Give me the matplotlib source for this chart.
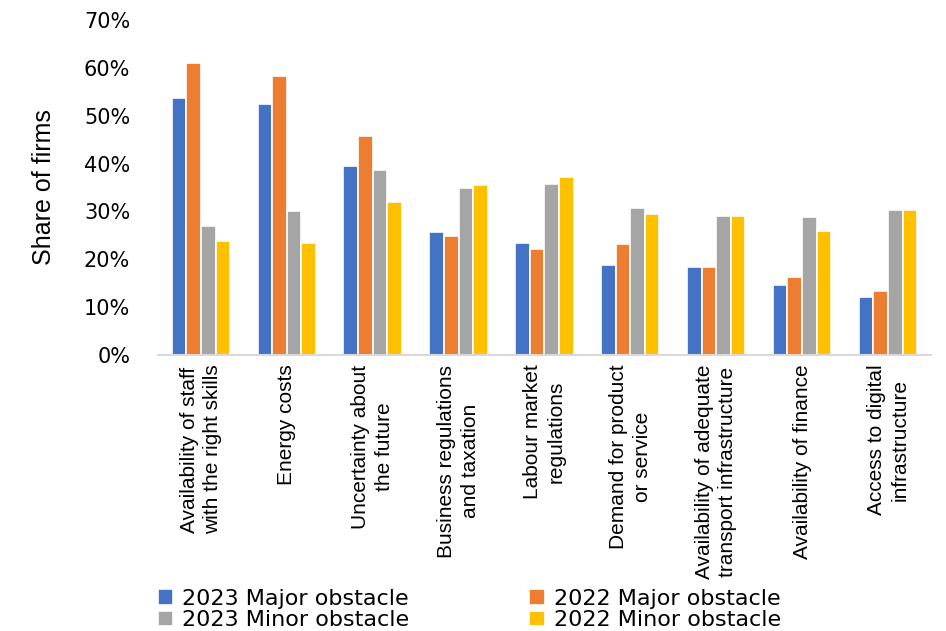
import matplotlib
matplotlib.use("Agg")
import matplotlib.pyplot as plt
import numpy as np
from matplotlib.ticker import FuncFormatter

categories = [
    "Availability of staff\nwith the right skills",
    "Energy costs",
    "Uncertainty about\nthe future",
    "Business regulations\nand taxation",
    "Labour market\nregulations",
    "Demand for product\nor service",
    "Availability of adequate\ntransport infrastructure",
    "Availability of finance",
    "Access to digital\ninfrastructure",
]
major_2023 = [53.8, 52.5, 39.4, 25.8, 23.3, 18.9, 18.4, 14.7, 12.1]
major_2022 = [61.0, 58.3, 45.8, 24.9, 22.2, 23.1, 18.4, 16.4, 13.3]
minor_2023 = [26.9, 30.1, 38.7, 34.9, 35.7, 30.8, 29.0, 28.9, 30.4]
minor_2022 = [23.8, 23.5, 32.0, 35.5, 37.1, 29.5, 29.0, 26.0, 30.4]
series_names = ["2023 Major obstacle", "2022 Major obstacle",
                "2023 Minor obstacle", "2022 Minor obstacle"]
colors = ["#4472C4", "#ED7D31", "#A5A5A5", "#FFC000"]
yticks = [0, 10, 20, 30, 40, 50, 60, 70]

fig = plt.figure(figsize=(9.46, 6.31), dpi=100)
ax = fig.add_axes([0.167, 0.4374, 0.817, 0.5309])

x = np.arange(len(categories))
w = 0.17
series = [major_2023, major_2022, minor_2023, minor_2022]
bars = []
for i, (vals, c) in enumerate(zip(series, colors)):
    b = ax.bar(x + (i - 1.5) * w, vals, width=w, color=c,
               edgecolor="white", linewidth=1.2, label=series_names[i])
    bars.append(b)

ax.set_xlim(-0.5, len(categories) - 0.5)
ax.set_ylim(0, 70)
ax.set_yticks(yticks)
ax.yaxis.set_major_formatter(FuncFormatter(lambda v, p: f"{int(v)}%"))
for lab in ax.get_yticklabels():
    lab.set_family("DejaVu Sans")
    lab.set_fontsize(15)
ax.tick_params(axis="y", length=0, pad=20, colors="black")
ax.tick_params(axis="x", length=0, pad=7)
ax.set_xticks(x)
ax.set_xticklabels(categories, rotation=90, ha="center", va="top",
                   fontsize=15, family="Liberation Sans", linespacing=1.3)

for s in ["top", "right", "left"]:
    ax.spines[s].set_visible(False)
ax.spines["bottom"].set_color("#D9D9D9")
ax.spines["bottom"].set_linewidth(1.5)

ax.set_ylabel("Share of firms", fontsize=18, family="Liberation Sans",
              labelpad=20)

handles = [bars[0], bars[2], bars[1], bars[3]]
labels = [series_names[0], series_names[2], series_names[1], series_names[3]]
fig.legend(handles, labels, ncol=2, loc="center left",
           bbox_to_anchor=(0.155, 0.034), frameon=False,
           prop={"family": "DejaVu Sans", "size": 16},
           handlelength=0.7, handleheight=0.7, handletextpad=0.4,
           columnspacing=5.4, labelspacing=0.05, borderpad=0)

fig.savefig("out.png", dpi=100)
